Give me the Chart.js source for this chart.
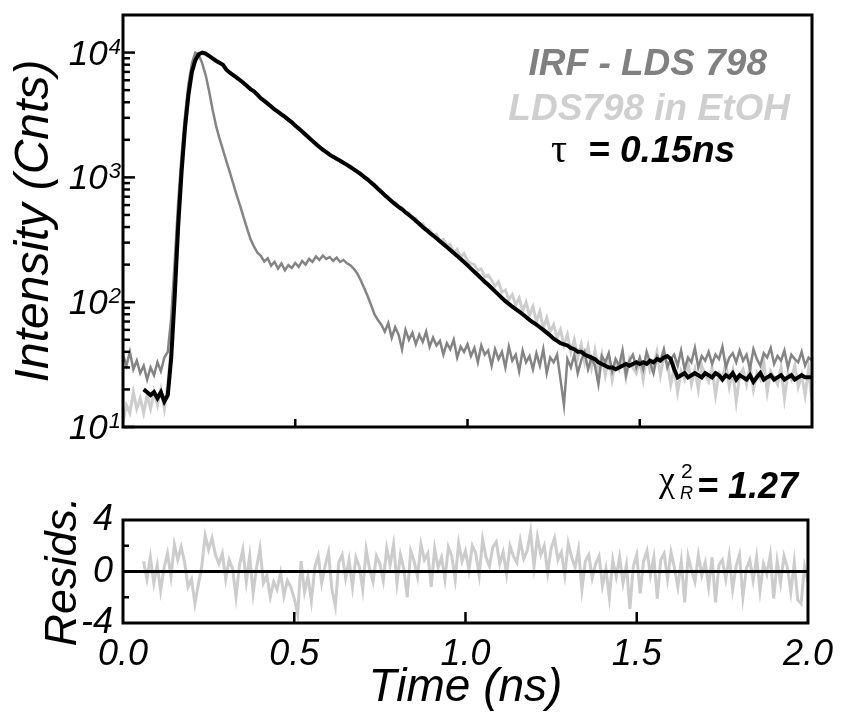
<!DOCTYPE html>
<html>
<head>
<meta charset="utf-8">
<script src="https://cdn.jsdelivr.net/npm/chart.js@4"></script>
<style>
  html, body { margin: 0; padding: 0; background: #fff; }
  #wrap { position: relative; width: 843px; height: 713px; background: #fff; }
  #decayChart { position: absolute; left: 0; top: 0; }
  #residChart { position: absolute; left: 0; top: 440px; }
</style>
</head>
<body>
<div id="wrap">
  <canvas id="decayChart" width="843" height="440"></canvas>
  <canvas id="residChart" width="843" height="273"></canvas>
</div>
<script>
// time grid of the TCSPC histogram (ns)
const timeStart = 0.0;
const timeStep = 0.01;

// IRF - LDS 798 (counts), t = 0.00 .. 2.00
const irfCounts = [
  38, 31, 40, 29, 34, 27, 31, 24, 30, 26,
  33, 28, 36, 40, 75, 210, 620, 1500, 3100, 5600,
  8200, 10000, 9600, 8200, 6600, 4900, 3500, 2600, 2050, 1670,
  1350, 1100, 890, 720, 590, 480, 390, 320, 280, 250,
  235, 212, 225, 196, 210, 186, 204, 180, 198, 188,
  206, 192, 214, 200, 222, 210, 232, 218, 236, 222,
  230, 214, 228, 210, 218, 205, 198, 185, 170, 150,
  130, 112, 95, 80, 72, 66, 58, 68, 52, 63,
  55, 42, 60, 50, 57, 46, 55, 48, 58, 44,
  52, 45, 49, 38, 47, 42, 50, 36, 44, 40,
  46, 37, 43, 33, 45, 38, 41, 31, 42, 35,
  40, 30, 44, 34, 38, 28, 41, 33, 37, 29,
  39, 31, 42, 27, 36, 33, 38, 24, 15, 35,
  30, 38, 27, 34, 40, 29, 36, 31, 22, 37,
  33, 39, 28, 35, 31, 41, 26, 34, 38, 30,
  36, 29, 40, 33, 27, 37, 34, 42, 30, 35,
  38, 31, 41, 29, 36, 33, 43, 30, 37, 34,
  40, 32, 38, 35, 44, 30, 36, 39, 33, 41,
  34, 38, 29, 42, 35, 31, 39, 36, 43, 32,
  37, 34, 41, 30, 38, 35, 33, 40, 31, 36,
  34
];

// LDS798 in EtOH (counts)
const dataCounts = [
  11, 15, 13, 19, 14, 17, 13, 18, 14, 19,
  15, 20, 14, 22, 45, 140, 480, 1300, 2900, 5100,
  7500, 9100, 9900, 9800, 9600, 9300, 8900, 8500, 8300, 7900,
  7300, 6950, 6550, 6350, 5950, 5750, 5350, 5150, 4850, 4650,
  4250, 4150, 3850, 3750, 3450, 3400, 3150, 3100, 2850, 2800,
  2550, 2500, 2300, 2250, 2050, 1990, 1820, 1780, 1640, 1620,
  1490, 1480, 1390, 1380, 1290, 1280, 1190, 1180, 1090, 1080,
  990, 980, 890, 880, 800, 780, 710, 700, 630, 630,
  570, 575, 515, 520, 470, 470, 420, 425, 385, 380,
  345, 350, 310, 320, 285, 290, 250, 265, 230, 245,
  215, 205, 200, 180, 185, 160, 165, 150, 135, 145,
  120, 125, 105, 115, 95, 108, 85, 100, 78, 92,
  70, 84, 62, 75, 58, 66, 52, 60, 45, 55,
  40, 50, 36, 46, 33, 44, 30, 41, 28, 38,
  26, 36, 24, 34, 29, 38, 25, 35, 30, 27,
  34, 24, 38, 28, 31, 40, 26, 36, 33, 22,
  30, 19, 28, 24, 33, 22, 29, 20, 31, 26,
  23, 30, 18, 27, 25, 32, 21, 28, 16, 26,
  29, 22, 31, 20, 27, 24, 33, 19, 28, 25,
  22, 30, 17, 27, 24, 31, 21, 26, 18, 29,
  16
];

// reconvolution fit (counts), starts at 0.06 ns
const fitCounts = [
  null, null, null, null, null, null, 20, 19, 18, 19,
  17, 19, 16, 18, 36, 110, 400, 1100, 2500, 4600,
  7000, 8700, 9700, 10000, 9800, 9400, 9000, 8600, 8300, 8000,
  7300, 6900, 6600, 6300, 6000, 5700, 5400, 5100, 4900, 4600,
  4300, 4100, 3900, 3700, 3500, 3350, 3200, 3050, 2900, 2760,
  2600, 2460, 2330, 2200, 2080, 1960, 1850, 1750, 1670, 1590,
  1520, 1460, 1410, 1360, 1310, 1260, 1210, 1160, 1110, 1060,
  1010, 960, 910, 860, 810, 765, 720, 680, 645, 610,
  580, 555, 525, 500, 475, 450, 425, 400, 380, 360,
  342, 325, 308, 292, 277, 262, 248, 235, 222, 210,
  198, 186, 175, 165, 155, 146, 138, 130, 122, 115,
  108, 102, 97, 92, 88, 84, 80, 76, 72, 69,
  66, 63, 60, 57, 54, 51, 49, 47, 46, 45,
  43, 42, 40, 40, 38, 37, 36, 35, 33, 32,
  31, 30, 30, 29, 30, 31, 32, 31, 32, 33,
  32, 33, 32, 34, 33, 35, 34, 36, 37, 35,
  29, 25, 26, 27, 25, 26, 27, 26, 25, 27,
  26, 25, 27, 26, 24, 26, 25, 27, 24, 26,
  25, 24, 26, 23, 25, 27, 24, 25, 26, 24,
  25, 26, 24, 25, 26, 24, 25, 26, 25, 25,
  25
];

// weighted residuals
const residuals = [
  null, null, null, null, null, null, 0.8, -0.6, 1.1, -0.9,
  0.5, -1.5, 0.3, 1.4, -0.4, 2.1, 0.9, 1.9, 0.7, -1.2,
  -0.6, -2.5, -1.0, 0.4, 2.8, 1.7, 2.6, 1.3, 0.6, 1.4,
  -0.6, 0.9, 0.2, -2.0, 0.5, 1.7, -0.8, 1.2, -1.7, 0.3,
  1.8, -0.9, -0.3, -2.0, -0.8, -1.4, -0.1, -1.9, -0.7, -1.2,
  -2.1, -3.3, 0.8, -1.6, -0.4, -2.3, 0.3, 1.2, -0.9, 0.4,
  1.5, -1.4, -2.7, 0.7, 1.3, -0.5, 0.9, -1.2, 1.1, 0.4,
  -1.4, 1.7, 0.2, -0.8, 1.2, 0.6, -0.7, 1.8, 0.5, 2.1,
  -0.9, 1.3, 0.2, -2.0, 1.6, 0.8, -0.4, 2.1, 0.9, 1.4,
  -1.2, 1.8, 0.3, 1.1, -0.6, 1.9, 1.2, -0.6, 2.2, 0.8,
  1.6, 0.1, 2.0, 1.4, -0.3, 2.5, 1.1, 0.4, 1.9, 2.3,
  0.6, 1.5, -0.2, 2.0, 1.2, 0.7, 2.4, 1.0, 1.6, 3.1,
  0.4, 2.7, 1.3, 2.0, -0.1, 1.8, 2.6, 0.9, 1.5, -0.3,
  2.2, 1.1, 0.3, 1.7, -1.4, 0.8, 1.3, -0.5, 0.6, 1.2,
  -1.1, 0.2, -2.0, 0.9, -0.4, 1.1, -0.9, 0.5, -2.9, 0.4,
  1.3, -1.7, 0.8, 1.6, -0.3, 1.1, -2.1, 0.9, 1.4, -0.6,
  1.5, 0.3, -1.2, 0.8, -2.4, 1.2, 0.1, -0.8, 1.3, -0.3,
  0.7, -1.2, 1.1, -2.4, 0.5, 0.9, -0.6, 1.2, -1.4, 0.4,
  1.3, -2.0, 0.2, 0.9, -0.7, 1.1, -1.5, 0.6, -0.2, 1.3,
  -2.1, 0.8, -0.9, 1.2, 0.3, -1.6, 0.7, -2.2, -2.5, 0.4,
  -0.8
];

const xMin = 0, xMax = 2, xStep = 0.5;
const xInnerTicks = [0.5, 1.0, 1.5];
const logLabels = [[10, '1'], [100, '2'], [1000, '3'], [10000, '4']];
const yLogMin = 10, yLogMax = 20000;
const residMin = -4, residMax = 4, residStep = 4;
const residInnerTicks = [-2, 2];

const FONT = "'Liberation Sans', Arial, Helvetica, sans-serif";
const SERIF = "'Liberation Serif', 'DejaVu Serif', serif";
Chart.defaults.font.family = FONT;
Chart.defaults.color = '#000';

function toPoints(vals) {
  return vals.map((v, i) => ({ x: +(timeStart + i * timeStep).toFixed(2), y: v }));
}

function drawFrame(ctx, a) {
  ctx.strokeStyle = '#000';
  ctx.lineWidth = 3;
  ctx.strokeRect(a.left, a.top, a.right - a.left, a.bottom - a.top);
}

function tick(ctx, x1, y1, x2, y2) {
  ctx.beginPath();
  ctx.moveTo(x1, y1);
  ctx.lineTo(x2, y2);
  ctx.stroke();
}

const decayDecor = {
  id: 'decayDecor',
  afterDatasetsDraw(chart) {
    const { ctx, chartArea: a, scales: { x, y } } = chart;
    ctx.save();
    drawFrame(ctx, a);
    ctx.lineWidth = 2.5;
    // log ticks, inside
    for (let d = yLogMin; d < yLogMax; d *= 10) {
      for (let m = 1; m <= 9; m++) {
        const v = d * m;
        if (v >= yLogMax) break;
        const py = y.getPixelForValue(v);
        tick(ctx, a.left, py, a.left + (m === 1 ? 12 : 7), py);
      }
    }
    xInnerTicks.forEach(t => {
      const px = x.getPixelForValue(t);
      tick(ctx, px, a.bottom, px, a.bottom - 8);
    });
    ctx.restore();
  },
  afterDraw(chart) {
    const { ctx, chartArea: a, scales: { y } } = chart;
    ctx.save();
    ctx.fillStyle = '#000';
    // decade labels 10^n
    logLabels.forEach(([v, e]) => {
      const py = y.getPixelForValue(v);
      ctx.font = 'italic 22px ' + FONT;
      ctx.textAlign = 'right';
      ctx.textBaseline = 'alphabetic';
      ctx.fillText(e, a.left - 2, py + 1);
      const ew = ctx.measureText(e).width;
      ctx.font = 'italic 35px ' + FONT;
      ctx.fillText('10', a.left - 3 - ew, py + 12);
    });
    // legend block
    ctx.textAlign = 'right';
    ctx.font = 'italic bold 37px ' + FONT;
    ctx.fillStyle = '#808080';
    ctx.fillText('IRF - LDS 798', 767, 75);
    ctx.fillStyle = '#cfcfcf';
    ctx.fillText('LDS798 in EtOH', 790, 120);
    ctx.fillStyle = '#000';
    ctx.textAlign = 'left';
    ctx.fillText('= 0.15ns', 588, 162);
    ctx.font = '40px ' + SERIF;
    ctx.fillText('\u03C4', 551, 162);
    ctx.restore();
  }
};

const residDecor = {
  id: 'residDecor',
  afterDatasetsDraw(chart) {
    const { ctx, chartArea: a, scales: { x, y } } = chart;
    ctx.save();
    const y0 = y.getPixelForValue(0);
    ctx.strokeStyle = '#000';
    ctx.lineWidth = 3;
    tick(ctx, a.left, y0, a.right, y0);
    drawFrame(ctx, a);
    ctx.lineWidth = 2.5;
    residInnerTicks.forEach(v => {
      const py = y.getPixelForValue(v);
      tick(ctx, a.left, py, a.left + 6, py);
    });
    xInnerTicks.forEach(t => {
      const px = x.getPixelForValue(t);
      tick(ctx, px, a.bottom, px, a.bottom - 11);
    });
    ctx.restore();
  },
  afterDraw(chart) {
    const { ctx } = chart;
    ctx.save();
    ctx.fillStyle = '#000';
    ctx.textBaseline = 'alphabetic';
    ctx.textAlign = 'left';
    ctx.font = '36px ' + SERIF;
    ctx.fillText('\u03C7', 659, 51);
    ctx.font = '21px ' + FONT;
    ctx.fillText('2', 681, 38);
    ctx.font = 'italic 18px ' + FONT;
    ctx.fillText('R', 680, 59);
    ctx.font = 'italic bold 36px ' + FONT;
    ctx.fillText('= 1.27', 697, 58);
    ctx.restore();
  }
};

const lineStyle = { pointRadius: 0, tension: 0, spanGaps: false, fill: false };

new Chart(document.getElementById('decayChart'), {
  type: 'line',
  data: {
    datasets: [
      Object.assign({ label: 'fit', data: toPoints(fitCounts), borderColor: '#000', borderWidth: 4 }, lineStyle),
      Object.assign({ label: 'IRF - LDS 798', data: toPoints(irfCounts), borderColor: '#848484', borderWidth: 2.5 }, lineStyle),
      Object.assign({ label: 'LDS798 in EtOH', data: toPoints(dataCounts), borderColor: '#cdcdcd', borderWidth: 3 }, lineStyle)
    ]
  },
  options: {
    responsive: false,
    animation: false,
    devicePixelRatio: 1,
    layout: { padding: { left: 0, right: 31, top: 15, bottom: 13 } },
    plugins: { legend: { display: false }, tooltip: { enabled: false } },
    scales: {
      x: { type: 'linear', min: xMin, max: xMax, display: false },
      y: {
        type: 'logarithmic', min: yLogMin, max: yLogMax,
        ticks: { display: false },
        grid: { display: false, drawTicks: false },
        border: { display: false },
        title: {
          display: true, text: 'Intensity (Cnts)', color: '#000',
          font: { size: 48, style: 'italic', family: FONT },
          padding: { top: 6, bottom: 0 }
        },
        afterFit(s) { s.width = 123; }
      }
    }
  },
  plugins: [decayDecor]
});

new Chart(document.getElementById('residChart'), {
  type: 'line',
  data: {
    datasets: [
      Object.assign({ label: 'residuals', data: toPoints(residuals), borderColor: '#cccccc', borderWidth: 3 }, lineStyle)
    ]
  },
  options: {
    responsive: false,
    animation: false,
    devicePixelRatio: 1,
    layout: { padding: { left: 0, right: 31, top: 80, bottom: 0 } },
    plugins: { legend: { display: false }, tooltip: { enabled: false } },
    scales: {
      x: {
        type: 'linear', min: xMin, max: xMax,
        ticks: {
          stepSize: xStep, padding: 10, color: '#000',
          font: { size: 36, style: 'italic', family: FONT },
          callback: v => v.toFixed(1)
        },
        grid: { display: false, drawTicks: false },
        border: { display: false },
        title: {
          display: true, text: 'Time (ns)', color: '#000',
          font: { size: 46, style: 'italic', family: FONT, lineHeight: 1.0 },
          padding: { top: 0, bottom: 2 }
        },
        afterFit(s) { s.height = 90; }
      },
      y: {
        type: 'linear', min: residMin, max: residMax,
        ticks: {
          stepSize: residStep, padding: 10, color: '#000',
          font: { size: 36, style: 'italic', family: FONT }
        },
        grid: { display: false, drawTicks: false },
        border: { display: false },
        title: {
          display: true, text: 'Resids.', color: '#000',
          font: { size: 45, style: 'italic', family: FONT },
          padding: { top: 36, bottom: 0 }
        },
        afterFit(s) { s.width = 123; }
      }
    }
  },
  plugins: [residDecor]
});
</script>
</body>
</html>
